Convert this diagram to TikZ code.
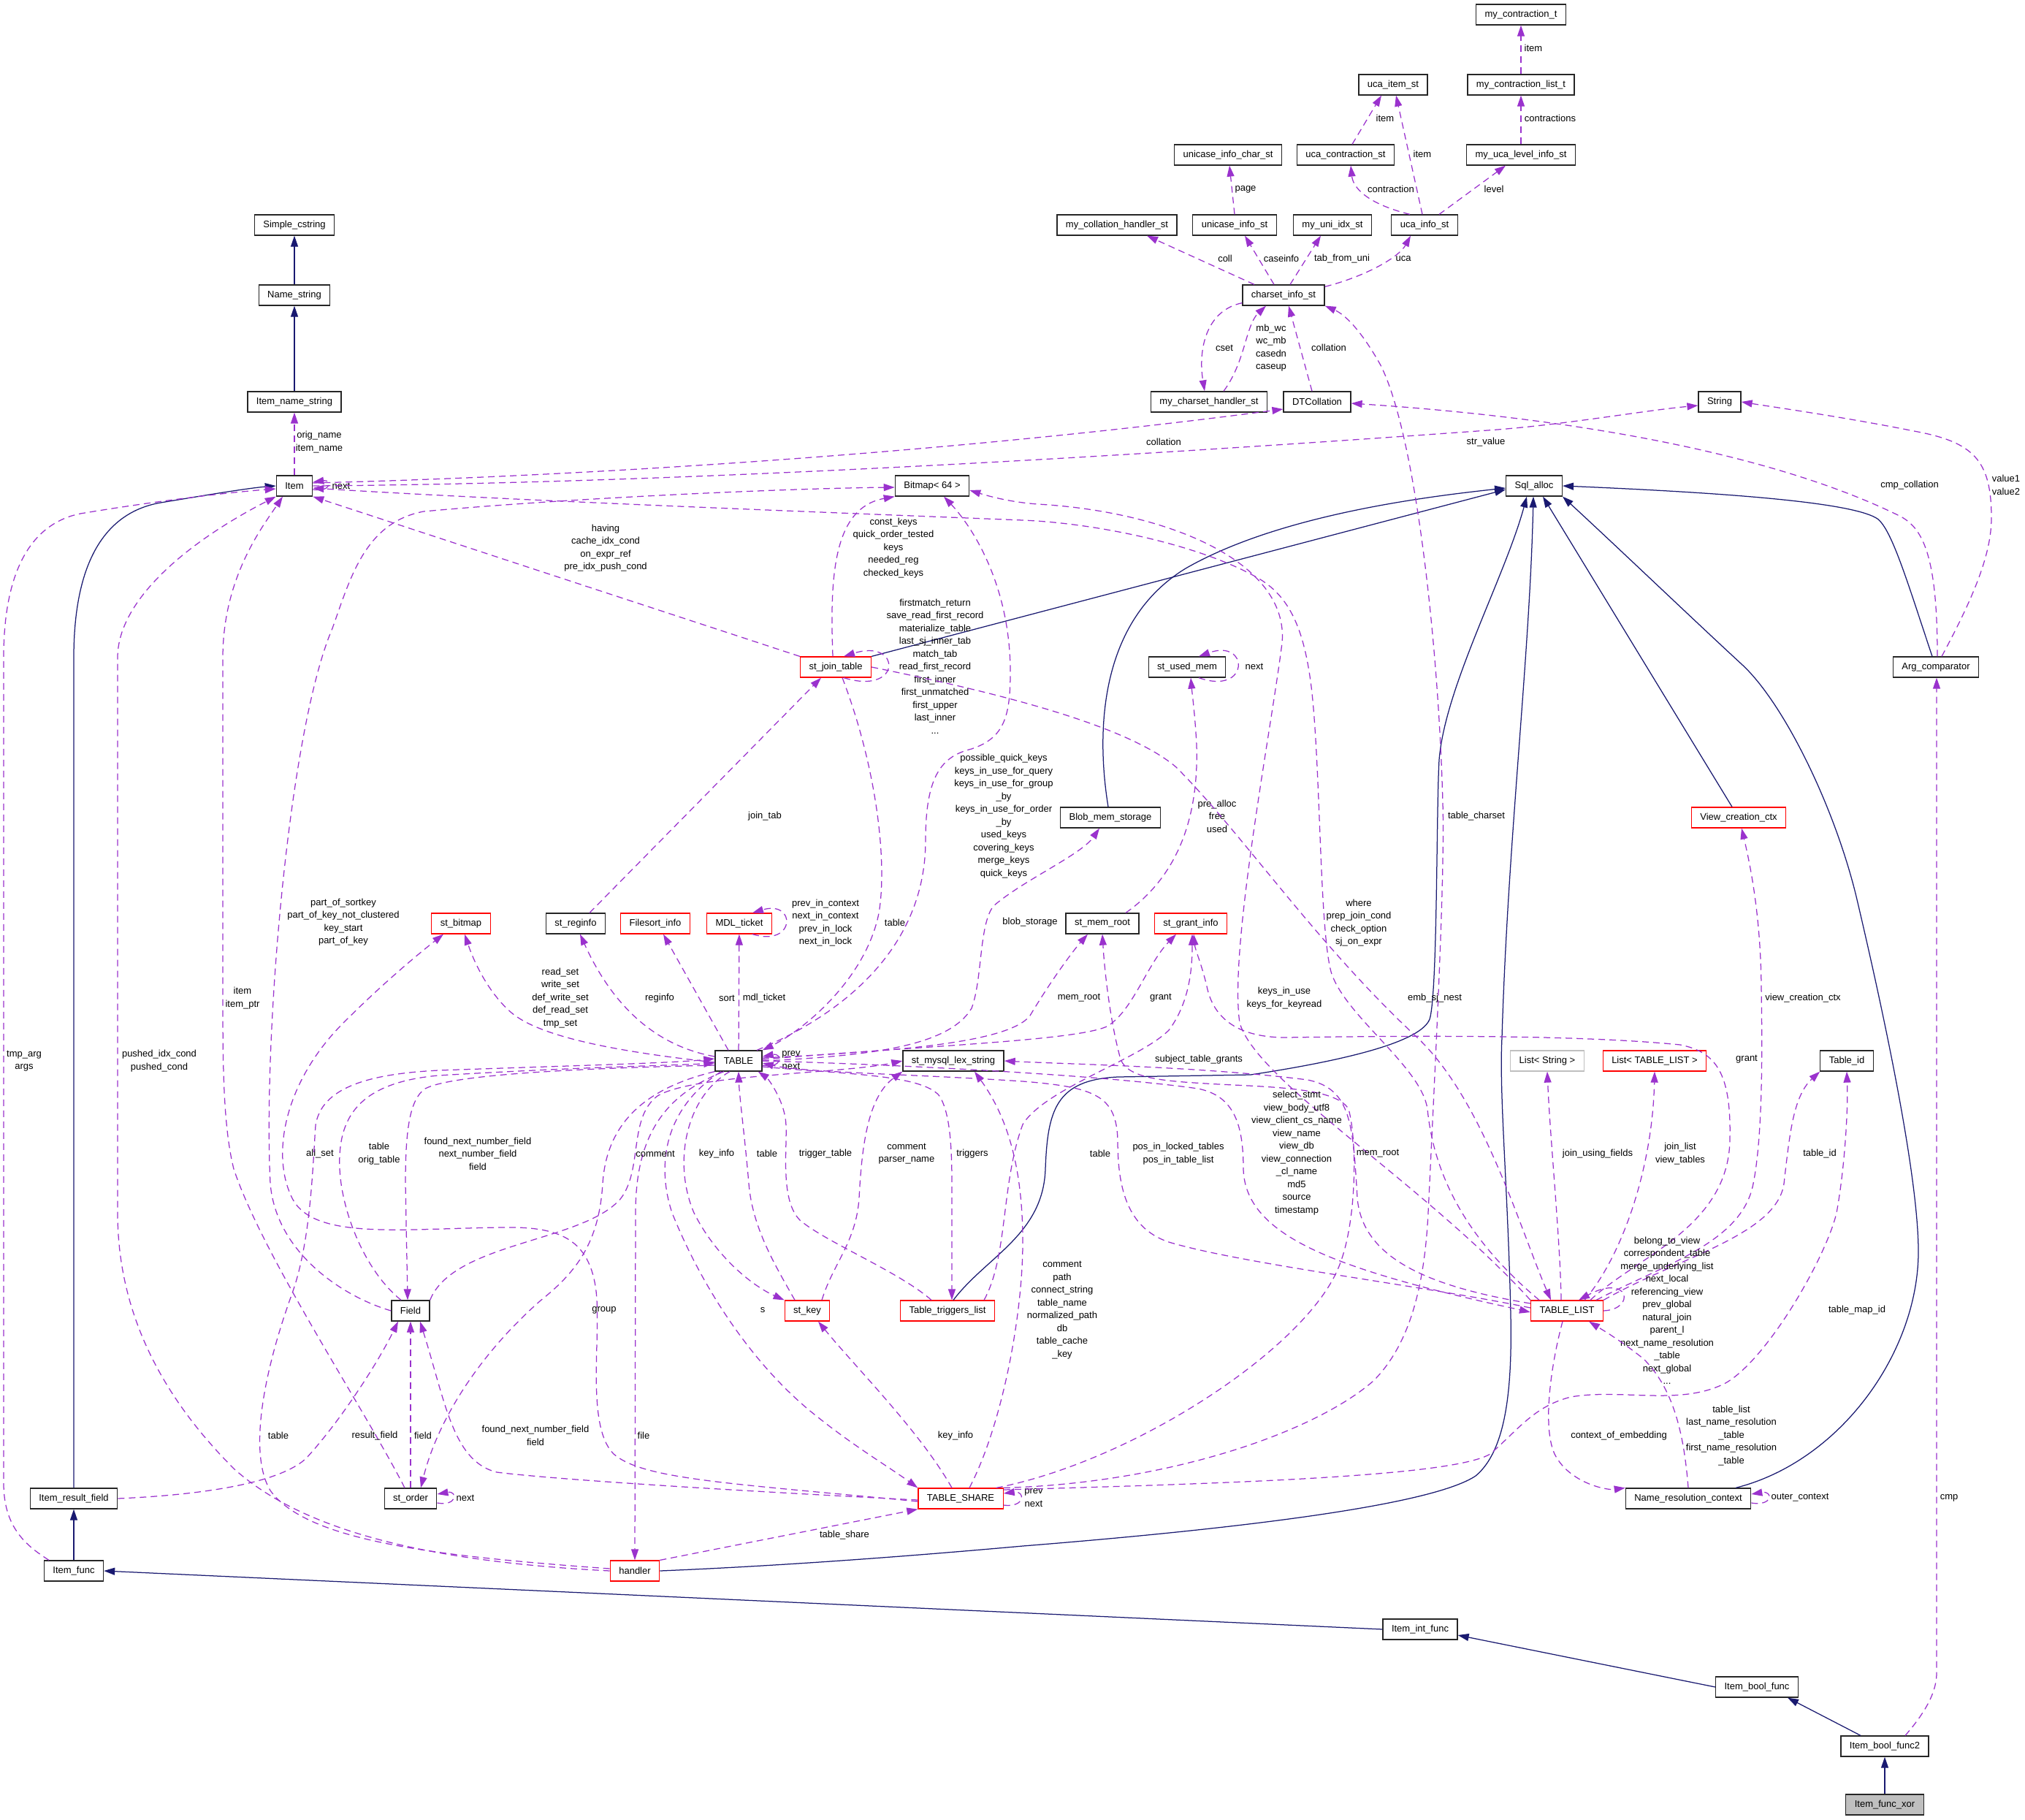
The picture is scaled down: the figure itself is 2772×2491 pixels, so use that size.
\documentclass[tikz,border=0pt]{standalone}
\usepackage{fontspec}
\setmainfont{Liberation Sans}
\usepackage{xcolor}
\usepackage{tikz}
\usetikzlibrary{arrows.meta}
\definecolor{inhblue}{RGB}{25,25,112}
\definecolor{usepurple}{RGB}{154,50,205}
\definecolor{boxgray}{RGB}{191,191,191}
\newcommand{\dgfont}{\fontsize{13}{17.5}\selectfont}

\begin{document}
\begin{tikzpicture}[x=1pt, y=-1pt, every node/.style={font=\dgfont}]
        % Define class boxes and connector styles
        \tikzstyle{cls} = [rectangle, draw=black!85, fill=white, line width=1.25pt, inner xsep=12pt, inner ysep=0pt, minimum height=28pt]
        \tikzstyle{redcls} = [cls, draw=red]
        \tikzstyle{graycls} = [cls, draw=boxgray]
        \tikzstyle{inh} = [line width=1.25pt, draw=inhblue, -{Triangle[length=15pt,width=10pt]}]
        \tikzstyle{use} = [line width=1.25pt, draw=usepurple, dash pattern=on 9pt off 6pt, -{Triangle[length=15pt,width=10pt]}]
        \tikzstyle{lbl} = [align=center, inner sep=0pt, text=black]

        \useasboundingbox (0,0) rectangle (2772,2491);

        % Classes
        \node[cls] (simplecs) at (403,308) {Simple\_cstring};
        \node[cls] (namestr) at (403,404) {Name\_string};
        \node[cls] (itemname) at (403,550) {Item\_name\_string};
        \node[cls] (item) at (403,665) {Item};
        \node[cls] (bitmap) at (1276,665) {Bitmap< 64 >};
        \node[cls] (mycontr) at (2082,20) {my\_contraction\_t};
        \node[cls] (ucaitem) at (1907,116) {uca\_item\_st};
        \node[cls] (mycontrlist) at (2082,116) {my\_contraction\_list\_t};
        \node[cls] (unicasechar) at (1681,212) {unicase\_info\_char\_st};
        \node[cls] (ucacontr) at (1842,212) {uca\_contraction\_st};
        \node[cls] (myucalevel) at (2082,212) {my\_uca\_level\_info\_st};
        \node[cls] (mycollh) at (1529,308) {my\_collation\_handler\_st};
        \node[cls] (unicaseinfo) at (1690,308) {unicase\_info\_st};
        \node[cls] (myuniidx) at (1824,308) {my\_uni\_idx\_st};
        \node[cls] (ucainfo) at (1950,308) {uca\_info\_st};
        \node[cls] (charset) at (1757,404) {charset\_info\_st};
        \node[cls] (mycsh) at (1655,550) {my\_charset\_handler\_st};
        \node[cls] (dtcoll) at (1803,550) {DTCollation};
        \node[cls] (string) at (2354,550) {String};
        \node[cls] (sqlalloc) at (2100,665) {Sql\_alloc};
        \node[redcls] (joinsttab) at (1144,913) {st\_join\_table};
        \node[cls] (usedmem) at (1625,913) {st\_used\_mem};
        \node[cls] (argcmp) at (2650,913) {Arg\_comparator};
        \node[cls] (blobmem) at (1520,1119) {Blob\_mem\_storage};
        \node[redcls] (viewctx) at (2380,1119) {View\_creation\_ctx};
        \node[redcls] (stbitmap) at (631,1264) {st\_bitmap};
        \node[cls] (reginfo) at (788,1264) {st\_reginfo};
        \node[redcls] (filesort) at (897,1264) {Filesort\_info};
        \node[redcls] (mdlticket) at (1012,1264) {MDL\_ticket};
        \node[cls] (memroot) at (1509,1264) {st\_mem\_root};
        \node[redcls] (grantinfo) at (1630,1264) {st\_grant\_info};
        \node[cls] (table) at (1011,1452) {TABLE};
        \node[cls] (lexstring) at (1305,1452) {st\_mysql\_lex\_string};
        \node[graycls] (liststring) at (2118,1452) {List< String >};
        \node[redcls] (listtl) at (2265,1452) {List< TABLE\_LIST >};
        \node[cls] (tableid) at (2528,1452) {Table\_id};
        \node[cls] (field) at (562,1794) {Field};
        \node[redcls] (stkey) at (1105,1794) {st\_key};
        \node[redcls] (triggers) at (1297,1794) {Table\_triggers\_list};
        \node[redcls] (tablelist) at (2145,1794) {TABLE\_LIST};
        \node[cls] (storder) at (562,2051) {st\_order};
        \node[cls] (itemresult) at (101,2051) {Item\_result\_field};
        \node[redcls] (tableshare) at (1315,2051) {TABLE\_SHARE};
        \node[cls] (nrctx) at (2311,2051) {Name\_resolution\_context};
        \node[cls] (itemfunc) at (101,2150) {Item\_func};
        \node[redcls] (handler) at (869,2150) {handler};
        \node[cls] (intfunc) at (1944,2230) {Item\_int\_func};
        \node[cls] (boolfunc) at (2405,2309) {Item\_bool\_func};
        \node[cls] (boolfunc2) at (2580,2390) {Item\_bool\_func2};
        \node[cls, fill=boxgray] (xor) at (2580,2470) {Item\_func\_xor};

        % Inheritance
        \draw[inh] (namestr) -- (simplecs);
        \draw[inh] (itemname) -- (namestr);
        \draw[inh] (itemfunc) -- (itemresult);
        \draw[inh] (xor) -- (boolfunc2);
        \draw[inh] (itemresult.north) -- (101,900) .. controls (101,760) and (150,700) .. (220,688) .. controls (280,678) and (340,668) .. (item.west);
        \draw[inh] (intfunc.west) -- (itemfunc.east);
        \draw[inh] (boolfunc.west) -- ([yshift=-8pt]intfunc.east);
        \draw[inh] ([xshift=-33pt]boolfunc2.north) -- ([xshift=42pt]boolfunc.south);
        \draw[inh] (joinsttab.north east) -- ([yshift=-5pt]sqlalloc.west);
        \draw[inh] ([xshift=-3pt]blobmem.north) .. controls (1500,1000) and (1505,850) .. (1623,778) .. controls (1750,705) and (1950,680) .. ([yshift=-3pt]sqlalloc.west);
        \draw[inh] ([xshift=8pt]triggers.north) .. controls (1350,1720) and (1428,1690) .. (1431,1600) .. controls (1434,1520) and (1445,1478) .. (1530,1474) -- (1712,1471) .. controls (1850,1450) and (1945,1425) .. (1957,1395) .. controls (1968,1360) and (1966,1110) .. (1970,1040) .. controls (1978,940) and (2060,790) .. ([xshift=-10pt]sqlalloc.south);
        \draw[inh] (handler.east) .. controls (1100,2142) and (1300,2125) .. (1400,2116) .. controls (1700,2092) and (1960,2060) .. (2020,2020) .. controls (2062,1985) and (2070,1900) .. (2068,1800) .. controls (2064,1620) and (2052,1500) .. (2056,1420) .. controls (2064,1150) and (2094,900) .. ([xshift=-1pt]sqlalloc.south);
        \draw[inh] ([xshift=-9pt]viewctx.north) -- ([xshift=12pt]sqlalloc.south);
        \draw[inh] ([xshift=65pt]nrctx.north) .. controls (2520,2000) and (2626,1850) .. (2626,1713) .. controls (2626,1600) and (2570,1350) .. (2541,1227) .. controls (2510,1100) and (2440,960) .. (2384,909) .. controls (2320,850) and (2210,745) .. (sqlalloc.south east);
        \draw[inh] ([xshift=-5pt]argcmp.north) .. controls (2612,800) and (2590,725) .. (2570,710) .. controls (2540,690) and (2400,676) .. (sqlalloc.east);

        % Charset cluster
        \draw[use] (mycontrlist) -- (mycontr) node[lbl] at (2099,66) {item};
        \draw[use] (myucalevel) -- (mycontrlist) node[lbl] at (2122,162) {contractions};
        \draw[use] ([xshift=9pt]ucacontr.north) -- ([xshift=-16pt]ucaitem.south) node[lbl] at (1896,162) {item};
        \draw[use] ([xshift=-3pt]ucainfo.north) -- ([xshift=4pt]ucaitem.south) node[lbl] at (1947,211) {item};
        \draw[use] ([xshift=-20pt]ucainfo.north) .. controls (1868,278) and (1852,255) .. ([xshift=7pt]ucacontr.south) node[lbl] at (1904,259) {contraction};
        \draw[use] ([xshift=20pt]ucainfo.north) -- ([xshift=-21pt]myucalevel.south) node[lbl] at (2045,259) {level};
        \draw[use] (unicaseinfo.north) -- ([xshift=2pt]unicasechar.south) node[lbl] at (1705,259) {page};
        \draw[use] ([xshift=-40pt]charset.north) -- ([xshift=41pt]mycollh.south) node[lbl] at (1677,354) {coll};
        \draw[use] ([xshift=-13pt]charset.north) -- ([xshift=14pt]unicaseinfo.south) node[lbl] at (1754,354) {caseinfo};
        \draw[use] ([xshift=9pt]charset.north) -- ([xshift=-16pt]myuniidx.south) node[lbl] at (1837,354) {tab\_from\_uni};
        \draw[use] ([yshift=-3pt]charset.north east) .. controls (1870,378) and (1915,352) .. ([xshift=-19pt]ucainfo.south) node[lbl] at (1921,354) {uca};
        \draw[use] ([yshift=4pt]charset.south west) .. controls (1650,425) and (1640,480) .. ([xshift=-6pt]mycsh.north) node[lbl] at (1676,476) {cset};
        \draw[use] ([xshift=20pt]mycsh.north) .. controls (1705,495) and (1705,445) .. ([xshift=-24pt]charset.south) node[lbl] at (1740,476) {mb\_wc\\wc\_mb\\casedn\\caseup};
        \draw[use] ([xshift=-7pt]dtcoll.north) -- ([xshift=7pt]charset.south) node[lbl] at (1819,476) {collation};

        % Item
        \draw[use] (item) -- (itemname) node[lbl] at (437,605) {orig\_name\\item\_name};
        \draw[use] ([yshift=-5pt]item.east) .. controls +(26,4) and +(26,-4) .. ([yshift=5pt]item.east) node[lbl] at (467,665) {next};
        \draw[use] ([xshift=-34pt]itemfunc.north) .. controls (35,2115) and (5,2090) .. (5,2030) -- (5,900) .. controls (5,770) and (50,715) .. (110,703) .. controls (200,688) and (300,675) .. ([yshift=-4pt]item.west) node[lbl] at (33,1452) {tmp\_arg\\args};
        \draw[use] (handler.west) .. controls (600,2138) and (420,2100) .. (320,2010) .. controls (200,1890) and (161,1770) .. (161,1660) -- (161,900) .. controls (161,820) and (260,740) .. (item.south west) node[lbl] at (218,1452) {pushed\_idx\_cond\\pushed\_cond};
        \draw[use] ([xshift=-8pt]storder.north) .. controls (500,1930) and (360,1720) .. (320,1600) .. controls (305,1540) and (305,1450) .. (305,1360) -- (305,900) .. controls (305,790) and (360,720) .. ([xshift=-16pt]item.south) node[lbl] at (332,1366) {item\\item\_ptr};
        \draw[use] (joinsttab.north west) -- (item.south east) node[lbl] at (829,750) {having\\cache\_idx\_cond\\on\_expr\_ref\\pre\_idx\_push\_cond};
        \draw[use] ([xshift=-38pt]tablelist.north) .. controls (2000,1690) and (1962,1600) .. (1954,1518) .. controls (1946,1460) and (1840,1390) .. (1822,1330) .. controls (1806,1270) and (1808,1050) .. (1795,940) .. controls (1785,860) and (1765,815) .. (1720,790) .. controls (1640,745) and (1500,716) .. (1400,712) .. controls (1100,700) and (700,685) .. ([yshift=-3pt]item.east) node[lbl] at (1860,1263) {where\\prep\_join\_cond\\check\_option\\sj\_on\_expr};
        \draw[use] ([yshift=4pt]item.east) .. controls (800,652) and (1300,620) .. ([yshift=-10pt]dtcoll.west) node[lbl] at (1593,605) {collation};
        \draw[use] (item.east) .. controls (900,662) and (1500,628) .. (2050,588) .. controls (2150,580) and (2250,562) .. ([yshift=-5pt]string.west) node[lbl] at (2034,605) {str\_value};

        % Bitmap
        \draw[use] (field.west) .. controls (470,1775) and (378,1715) .. (370,1620) .. controls (360,1420) and (395,1000) .. (455,860) .. controls (480,790) and (500,715) .. (580,700) .. controls (800,680) and (1100,668) .. ([yshift=-2pt]bitmap.west) node[lbl] at (470,1262) {part\_of\_sortkey\\part\_of\_key\_not\_clustered\\key\_start\\part\_of\_key};
        \draw[use] ([xshift=-4pt]joinsttab.north) .. controls (1136,790) and (1140,695) .. (bitmap.south west) node[lbl] at (1223,750) {const\_keys\\quick\_order\_tested\\keys\\needed\_reg\\checked\_keys};
        \draw[use] ([xshift=25pt]table.north) .. controls (1150,1390) and (1267,1300) .. (1267,1150) .. controls (1267,1060) and (1290,1035) .. (1330,1025) .. controls (1375,1010) and (1383,980) .. (1383,920) .. controls (1383,800) and (1330,720) .. ([xshift=16pt]bitmap.south) node[lbl] at (1374,1117) {possible\_quick\_keys\\keys\_in\_use\_for\_query\\keys\_in\_use\_for\_group\\\_by\\keys\_in\_use\_for\_order\\\_by\\used\_keys\\covering\_keys\\merge\_keys\\quick\_keys};
        \draw[use] (tablelist.north west) .. controls (1950,1620) and (1720,1480) .. (1697,1400) .. controls (1682,1300) and (1740,1000) .. (1755,880) .. controls (1765,770) and (1600,700) .. (1420,690) .. controls (1380,687) and (1350,678) .. ([yshift=-6pt]bitmap.east) node[lbl] at (1758,1366) {keys\_in\_use\\keys\_for\_keyread};

        % Memory and join tab
        \draw[use] ([xshift=16pt]usedmem.south) .. controls +(70,25) and +(70,-25) .. ([xshift=16pt]usedmem.north) node[lbl] at (1717,912) {next};
        \draw[use] ([xshift=32pt]memroot.north) .. controls (1590,1215) and (1642,1150) .. (1638,1020) .. controls (1636,980) and (1632,950) .. ([xshift=5pt]usedmem.south) node[lbl] at (1666,1117) {pre\_alloc\\free\\used};
        \draw[use] ([xshift=11pt]joinsttab.south) .. controls +(80,25) and +(80,-25) .. ([xshift=11pt]joinsttab.north) node[lbl] at (1280,912) {firstmatch\_return\\save\_read\_first\_record\\materialize\_table\\last\_sj\_inner\_tab\\match\_tab\\read\_first\_record\\first\_inner\\first\_unmatched\\first\_upper\\last\_inner\\...};
        \draw[use] ([xshift=19pt]reginfo.north) -- ([xshift=-20pt]joinsttab.south) node[lbl] at (1047,1117) {join\_tab};
        \draw[use] ([xshift=9pt]joinsttab.south) .. controls (1200,1050) and (1215,1180) .. (1203,1250) .. controls (1185,1340) and (1100,1410) .. (table.north east) node[lbl] at (1225,1263) {table};
        \draw[use] (joinsttab.east) .. controls (1350,945) and (1540,990) .. (1610,1050) .. controls (1700,1140) and (1800,1290) .. (1940,1420) .. controls (2030,1505) and (2080,1680) .. ([xshift=-22pt]tablelist.north) node[lbl] at (1964,1366) {emb\_sj\_nest};

        % TABLE
        \draw[use] ([yshift=6pt]table.west) .. controls (900,1432) and (840,1380) .. ([xshift=6pt]reginfo.south) node[lbl] at (903,1366) {reginfo};
        \draw[use] ([xshift=-14pt]table.north) -- ([xshift=11pt]filesort.south) node[lbl] at (995,1366) {sort};
        \draw[use] (table) -- (mdlticket) node[lbl] at (1046,1366) {mdl\_ticket};
        \draw[use] ([xshift=18pt]mdlticket.south) .. controls +(60,18) and +(60,-18) .. ([xshift=18pt]mdlticket.north) node[lbl] at (1130,1263) {prev\_in\_context\\next\_in\_context\\prev\_in\_lock\\next\_in\_lock};
        \draw[use] ([yshift=-2pt]table.west) .. controls (850,1440) and (740,1420) .. (700,1386) .. controls (670,1360) and (650,1320) .. ([xshift=5pt]stbitmap.south) node[lbl] at (767,1366) {read\_set\\write\_set\\def\_write\_set\\def\_read\_set\\tmp\_set};
        \draw[use] (table.east) .. controls (1200,1445) and (1300,1430) .. (1330,1380) .. controls (1345,1340) and (1340,1265) .. (1360,1240) .. controls (1400,1205) and (1480,1170) .. ([xshift=-15pt]blobmem.south) node[lbl] at (1410,1262) {blob\_storage};
        \draw[use] ([yshift=4pt]table.east) .. controls (1200,1440) and (1380,1430) .. (1410,1390) .. controls (1440,1340) and (1470,1300) .. ([xshift=-20pt]memroot.south) node[lbl] at (1477,1366) {mem\_root};
        \draw[use] ([yshift=2pt]table.east) .. controls (1250,1432) and (1470,1425) .. (1515,1405) .. controls (1550,1385) and (1570,1320) .. ([xshift=-20pt]grantinfo.south) node[lbl] at (1589,1366) {grant};
        \draw[use] ([yshift=-6pt]table.east) .. controls +(28,5) and +(28,-5) .. ([yshift=6pt]table.east) node[lbl] at (1083,1451) {prev\\next};
        \draw[use] ([yshift=-6pt]table.west) .. controls (800,1462) and (620,1470) .. (582,1490) .. controls (560,1505) and (555,1550) .. (555,1620) -- ([xshift=-4pt]field.north) node[lbl] at (654,1579) {found\_next\_number\_field\\next\_number\_field\\field};
        \draw[use] ([xshift=-13pt]field.north) .. controls (500,1740) and (468,1660) .. (465,1600) .. controls (462,1530) and (490,1482) .. (600,1472) .. controls (800,1460) and (930,1458) .. ([yshift=-3pt]table.west) node[lbl] at (519,1579) {table\\orig\_table};
        \draw[use] ([yshift=-4pt]tableshare.west) .. controls (1000,2030) and (880,2025) .. (840,1990) .. controls (800,1950) and (825,1820) .. (815,1760) .. controls (805,1700) and (770,1680) .. (700,1680) .. controls (560,1680) and (430,1700) .. (400,1640) .. controls (370,1580) and (390,1480) .. (470,1400) .. controls (530,1340) and (580,1300) .. ([xshift=-24pt]stbitmap.south) node[lbl] at (438,1579) {all\_set};
        \draw[use] (table.south west) .. controls (880,1490) and (830,1540) .. (825,1620) .. controls (820,1700) and (790,1740) .. (740,1780) .. controls (660,1850) and (600,1940) .. ([xshift=14pt]storder.north) node[lbl] at (827,1793) {group};
        \draw[use] ([xshift=-20pt]table.south) .. controls (905,1500) and (870,1560) .. (870,1660) -- (handler.north) node[lbl] at (881,1965) {file};
        \draw[use] ([xshift=-12pt]table.south) .. controls (940,1500) and (920,1590) .. (950,1660) .. controls (980,1720) and (1030,1760) .. (stkey.north west) node[lbl] at (981,1579) {key\_info};
        \draw[use] ([xshift=-17pt]stkey.north) .. controls (1060,1730) and (1030,1680) .. (1025,1620) .. controls (1020,1560) and (1012,1500) .. (table.south) node[lbl] at (1050,1579) {table};
        \draw[use] ([xshift=-24pt]table.south) .. controls (905,1520) and (900,1600) .. (920,1660) .. controls (960,1760) and (1030,1870) .. (1120,1940) .. controls (1170,1980) and (1220,2010) .. (tableshare.north west) node[lbl] at (1044,1793) {s};
        \draw[use] ([xshift=-22pt]triggers.north) .. controls (1230,1740) and (1130,1700) .. (1095,1670) .. controls (1065,1640) and (1080,1560) .. (1075,1530) .. controls (1070,1500) and (1050,1475) .. ([xshift=-6pt]table.south east) node[lbl] at (1130,1579) {trigger\_table};
        \draw[use] ([yshift=-8pt]table.east) .. controls (1150,1470) and (1262,1470) .. (1286,1500) .. controls (1305,1530) and (1303,1600) .. (1303,1660) -- ([xshift=6pt]triggers.north) node[lbl] at (1331,1579) {triggers};
        \draw[use] ([xshift=50pt]triggers.north) .. controls (1380,1720) and (1370,1620) .. (1400,1539) .. controls (1430,1490) and (1560,1450) .. (1600,1410) .. controls (1630,1370) and (1632,1320) .. ([xshift=2pt]grantinfo.south) node[lbl] at (1641,1450) {subject\_table\_grants};
        \draw[use] (field.north east) .. controls (620,1700) and (800,1700) .. (850,1640) .. controls (880,1600) and (860,1530) .. (900,1500) .. controls (950,1470) and (1150,1470) .. (lexstring.west) node[lbl] at (897,1579) {comment};
        \draw[use] ([xshift=20pt]stkey.north) .. controls (1140,1730) and (1172,1700) .. (1176,1640) .. controls (1180,1560) and (1190,1500) .. (lexstring.south west) node[lbl] at (1241,1579) {comment\\parser\_name};

        % TABLE_SHARE
        \draw[use] ([yshift=-9pt]tableshare.east) .. controls +(30,4) and +(30,-4) .. ([yshift=7pt]tableshare.east) node[lbl] at (1415,2050) {prev\\next};
        \draw[use] ([xshift=-12pt]tableshare.north) .. controls (1260,1960) and (1170,1870) .. ([xshift=15pt]stkey.south) node[lbl] at (1308,1965) {key\_info};
        \draw[use] ([xshift=12pt]tableshare.north) .. controls (1372,1950) and (1400,1800) .. (1400,1700) .. controls (1400,1600) and (1380,1530) .. ([xshift=29pt]lexstring.south) node[lbl] at (1454,1793) {comment\\path\\connect\_string\\table\_name\\normalized\_path\\db\\table\_cache\\\_key};
        \draw[use] (tableshare.north east) .. controls (1600,2030) and (1800,1960) .. (1880,1890) .. controls (1930,1840) and (1950,1760) .. (1955,1660) .. controls (1965,1450) and (1978,1200) .. (1975,1100) .. controls (1970,900) and (1940,600) .. (1890,500) .. controls (1862,450) and (1840,430) .. (charset.south east) node[lbl] at (2021,1117) {table\_charset};
        \draw[use] ([xshift=-10pt]tableshare.north east) .. controls (1550,2000) and (1780,1850) .. (1830,1740) .. controls (1858,1680) and (1858,1560) .. (1846,1518) .. controls (1830,1490) and (1750,1488) .. (1668,1484) .. controls (1600,1480) and (1545,1478) .. (1534,1450) .. controls (1520,1400) and (1512,1330) .. (memroot.south) node[lbl] at (1886,1579) {mem\_root};
        \draw[use] ([yshift=12pt]tableshare.east) .. controls (1700,2030) and (1990,2020) .. (2040,1990) .. controls (2080,1955) and (2100,1925) .. (2150,1912) .. controls (2220,1900) and (2300,1925) .. (2362,1893) .. controls (2420,1860) and (2500,1720) .. (2514,1660) .. controls (2525,1600) and (2530,1520) .. (tableid.south) node[lbl] at (2542,1793) {table\_map\_id};
        \draw[use] (handler.north east) -- (tableshare.south west) node[lbl] at (1156,2101) {table\_share};
        \draw[use] ([yshift=3pt]handler.west) .. controls (600,2130) and (420,2110) .. (370,2040) .. controls (340,1990) and (360,1880) .. (400,1770) .. controls (425,1700) and (428,1600) .. (432,1540) .. controls (440,1490) and (500,1470) .. (600,1465) .. controls (800,1458) and (920,1455) .. ([yshift=3pt]table.west) node[lbl] at (381,1965) {table};
        \draw[use] (itemresult.east) .. controls (300,2045) and (390,2025) .. (420,1995) .. controls (470,1940) and (520,1860) .. ([xshift=-17pt]field.south) node[lbl] at (513,1965) {result\_field};
        \draw[use] (storder) -- (field) node[lbl] at (579,1965) {field};
        \draw[use] ([yshift=-6pt]storder.east) .. controls +(28,5) and +(28,-5) .. ([yshift=6pt]storder.east) node[lbl] at (637,2050) {next};
        \draw[use] ([yshift=-2pt]tableshare.west) .. controls (1000,2040) and (760,2025) .. (680,2015) .. controls (620,2000) and (610,1920) .. ([xshift=13pt]field.south) node[lbl] at (733,1965) {found\_next\_number\_field\\field};

        % TABLE_LIST
        \draw[use] ([yshift=4pt]tablelist.west) .. controls (1950,1760) and (1700,1730) .. (1600,1700) .. controls (1540,1680) and (1530,1620) .. (1530,1560) .. controls (1528,1500) and (1500,1488) .. (1400,1480) .. controls (1250,1470) and (1100,1468) .. ([yshift=-3pt]table.east) node[lbl] at (1506,1579) {table};
        \draw[use] (table.east) .. controls (1200,1456) and (1500,1470) .. (1640,1490) .. controls (1690,1500) and (1702,1540) .. (1702,1600) .. controls (1704,1680) and (1800,1722) .. (1950,1762) .. controls (2020,1780) and (2060,1788) .. ([yshift=-2pt]tablelist.west) node[lbl] at (1613,1579) {pos\_in\_locked\_tables\\pos\_in\_table\_list};
        \draw[use] ([yshift=10pt]tablelist.west) .. controls (1950,1760) and (1865,1720) .. (1858,1640) .. controls (1852,1540) and (1850,1490) .. (1790,1478) .. controls (1650,1460) and (1450,1456) .. (lexstring.east) node[lbl] at (1775,1578) {select\_stmt\\view\_body\_utf8\\view\_client\_cs\_name\\view\_name\\view\_db\\view\_connection\\\_cl\_name\\md5\\source\\timestamp};
        \draw[use] ([xshift=32pt]tablelist.north) .. controls (2240,1720) and (2366,1680) .. (2368,1560) .. controls (2370,1470) and (2350,1440) .. (2300,1430) .. controls (2150,1415) and (1900,1418) .. (1760,1420) .. controls (1690,1420) and (1660,1390) .. (1652,1350) .. controls (1645,1320) and (1636,1300) .. ([xshift=4pt]grantinfo.south) node[lbl] at (2391,1450) {grant};
        \draw[use] ([xshift=40pt]tablelist.north) .. controls (2280,1730) and (2385,1700) .. (2400,1620) .. controls (2414,1550) and (2412,1420) .. (2411,1350) .. controls (2410,1250) and (2395,1180) .. ([xshift=4pt]viewctx.south) node[lbl] at (2468,1366) {view\_creation\_ctx};
        \draw[use] ([xshift=-8pt]tablelist.north) .. controls (2136,1700) and (2122,1560) .. (liststring.south) node[lbl] at (2187,1579) {join\_using\_fields};
        \draw[use] ([xshift=24pt]tablelist.north) .. controls (2220,1720) and (2262,1600) .. (listtl.south) node[lbl] at (2300,1579) {join\_list\\view\_tables};
        \draw[use] (tablelist.north east) .. controls (2300,1720) and (2432,1690) .. (2442,1620) .. controls (2450,1550) and (2455,1500) .. (tableid.south west) node[lbl] at (2491,1579) {table\_id};
        \draw[use] (tablelist.east) .. controls (2240,1792) and (2230,1742) .. ([xshift=16pt]tablelist.north) node[lbl] at (2282,1794) {belong\_to\_view\\correspondent\_table\\merge\_underlying\_list\\next\_local\\referencing\_view\\prev\_global\\natural\_join\\parent\_l\\next\_name\_resolution\\\_table\\next\_global\\...};
        \draw[use] ([xshift=-6pt]tablelist.south) .. controls (2125,1860) and (2110,1950) .. (2128,1990) .. controls (2148,2030) and (2200,2040) .. (nrctx.north west) node[lbl] at (2216,1965) {context\_of\_embedding};
        \draw[use] (nrctx.north) .. controls (2305,1960) and (2290,1900) .. (2250,1860) .. controls (2215,1832) and (2190,1818) .. ([xshift=30pt]tablelist.south) node[lbl] at (2370,1965) {table\_list\\last\_name\_resolution\\\_table\\first\_name\_resolution\\\_table};
        \draw[use] ([yshift=-6pt]nrctx.east) .. controls +(30,5) and +(30,-5) .. ([yshift=6pt]nrctx.east) node[lbl] at (2464,2050) {outer\_context};

        % Arg_comparator
        \draw[use] ([xshift=2pt]argcmp.north) .. controls (2652,760) and (2632,722) .. (2600,706) .. controls (2450,632) and (2200,575) .. ([yshift=-2pt]dtcoll.east) node[lbl] at (2614,664) {cmp\_collation};
        \draw[use] ([xshift=8pt]argcmp.north) .. controls (2700,820) and (2726,760) .. (2726,709) .. controls (2726,630) and (2702,605) .. (2620,590) .. controls (2520,570) and (2420,556) .. (string.east) node[lbl] at (2746,664) {value1\\value2};
        \draw[use] ([xshift=28pt]boolfunc2.north) .. controls (2630,2350) and (2651,2320) .. (2651,2290) -- ([xshift=1pt]argcmp.south) node[lbl] at (2668,2050) {cmp};
\end{tikzpicture}
\end{document}
